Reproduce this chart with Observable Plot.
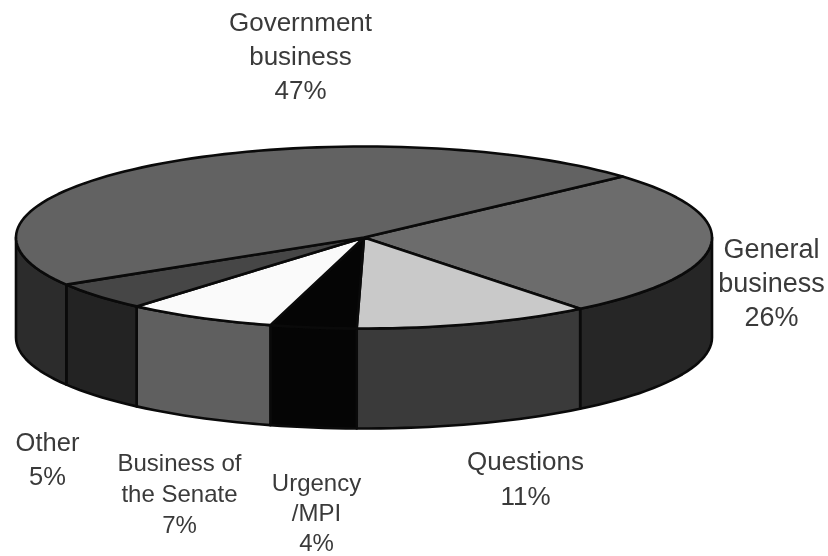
<!DOCTYPE html>
<html>
<head>
<meta charset="utf-8">
<script src="https://cdn.jsdelivr.net/npm/d3@7"></script>
<script src="https://cdn.jsdelivr.net/npm/@observablehq/plot@0.6"></script>
<style>html,body{margin:0;padding:0;background:#fff}svg{display:block;filter:blur(0.6px)}</style>
</head>
<body>
<script>
// Slices, clockwise from the Government / General boundary on the far rim
const categories = ["General business", "Questions", "Urgency /MPI", "Business of the Senate", "Other", "Government business"];
const shares = [26, 11, 4, 7, 5, 47];
const topColors = ["#6c6c6c", "#c9c9c9", "#050505", "#fafafa", "#464646", "#626262"];
const sideColors = ["#262626", "#3a3a3a", "#050505", "#5f5f5f", "#232323", "#2c2c2c"];

// Label text
const labelLines = [["Government", "business", "47%"], ["General", "business", "26%"], ["Questions", "11%"], ["Urgency", "/MPI", "4%"], ["Business of", "the Senate", "7%"], ["Other", "5%"]];
const labelX = [300, 771, 525, 316, 179, 47];
const labelY = [22, 249, 461, 483, 463, 442];
const labelSize = [26, 27, 26, 24, 24, 25.5];
const labelLeading = [34, 34, 35, 30, 31, 34];

// Pie projection
const cx = 363.5, cy = 237, rx = 348, ry = 91, depth = 100, startDeg = 42;
const rim = (deg, dy = 0) => {
  const t = deg * Math.PI / 180;
  return {x: cx + rx * Math.cos(t), y: cy - ry * Math.sin(t) + dy};
};
const steps = (a, b) => {
  const n = Math.max(2, Math.ceil(Math.abs(b - a) / 2));
  return d3.range(n + 1).map(i => a + (b - a) * i / n);
};

let angle = startDeg;
const topRows = [], sideRows = [];
categories.forEach((name, i) => {
  const from = angle, to = angle - shares[i] * 3.6;
  angle = to;
  const centre = {x: cx, y: cy};
  topRows.push(...[centre, ...steps(from, to).map(a => rim(a)), centre].map(p => ({...p, name, fill: topColors[i]})));
  // The visible wall is the part of the rim with a front-facing angle: 0 to -180 degrees
  const hi = Math.min(from, 0), lo = Math.max(to, -180);
  if (hi > lo) {
    const front = steps(hi, lo);
    const outline = [...front.map(d => rim(d)), ...[...front].reverse().map(d => rim(d, depth)), rim(hi)];
    sideRows.push(...outline.map(p => ({...p, name, fill: sideColors[i]})));
  }
});

const labelRows = labelLines.flatMap((lines, i) => lines.map((text, j) => ({
  text, x: labelX[i], y: labelY[i] + j * labelLeading[i], size: labelSize[i]
})));

const chart = Plot.plot({
  width: 828, height: 556,
  margin: 0,
  x: {domain: [0, 828], range: [0, 828], axis: null},
  y: {domain: [0, 556], range: [0, 556], axis: null},
  color: {type: "identity"},
  marks: [
    Plot.line(sideRows, {x: "x", y: "y", z: "name", fill: "fill", stroke: "#0a0a0a", strokeWidth: 2.6, strokeLinejoin: "round"}),
    Plot.line(topRows, {x: "x", y: "y", z: "name", fill: "fill", stroke: "#0a0a0a", strokeWidth: 2.6, strokeLinejoin: "round"}),
    Plot.text(labelRows, {x: "x", y: "y", text: "text", fontSize: "size", fontFamily: "Liberation Sans", fill: "#3a3a3a", textAnchor: "middle", lineAnchor: "middle"})
  ]
});
document.body.appendChild(chart);
</script>
</body>
</html>
